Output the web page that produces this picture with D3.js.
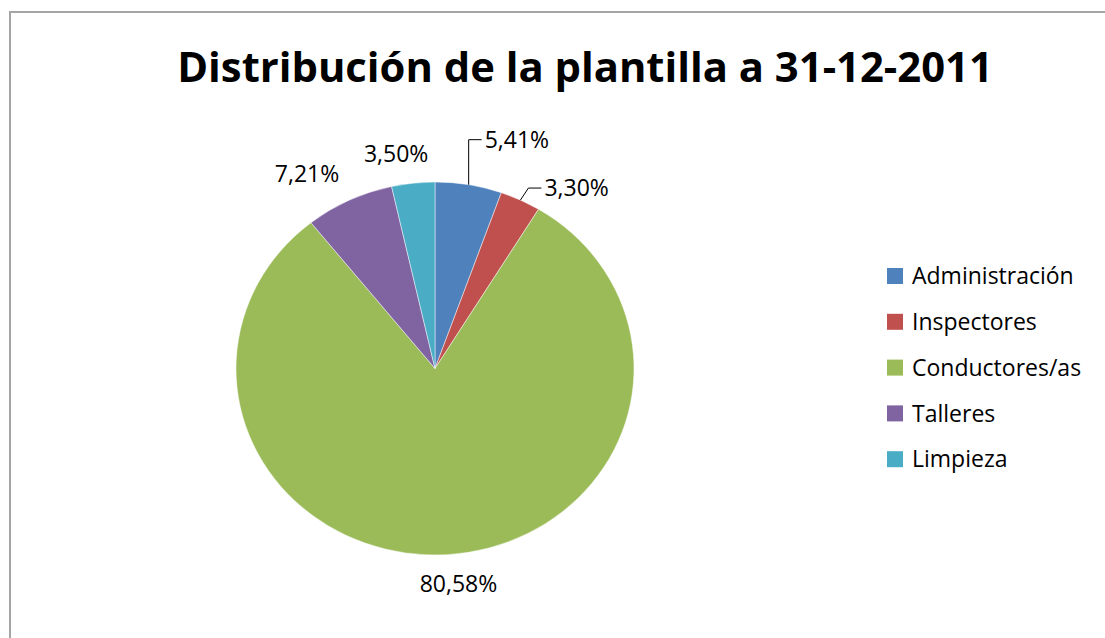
<!DOCTYPE html>
<html>
<head>
<meta charset="utf-8">
<script src="https://cdn.jsdelivr.net/npm/d3@7"></script>
<style>
  body { margin: 0; background: #fff; }
  text { font-family: "Open Sans", "DejaVu Sans", sans-serif; }
</style>
</head>
<body>
<div id="chart-area"></div>
<script>
const WIDTH = 1105
const HEIGHT = 638

// DATA
const categories = ["Administración", "Inspectores", "Conductores/as", "Talleres", "Limpieza"]
const shares = [5.41, 3.30, 80.58, 7.21, 3.50]
const labels = ["5,41%", "3,30%", "80,58%", "7,21%", "3,50%"]
const colors = ["#4F81BD", "#C0504D", "#9BBB59", "#8064A2", "#4BACC6"]

// layout of the labels: offset from the slice's edge point, and leader lines
const LABEL_OFFSET = [[0, -45], [8, -12], [11, 29], [-42, -27], [-17, -29]]
const HAS_LEADER = [true, true, false, false, false]

const CX = 435, CY = 368.5, RX = 199, RY = 186.5

const svg = d3.select("#chart-area").append("svg")
  .attr("width", WIDTH)
  .attr("height", HEIGHT)

svg.append("rect")
  .attr("width", WIDTH)
  .attr("height", HEIGHT)
  .attr("fill", "#fff")

// chart frame (cut off at right and bottom)
svg.append("rect")
  .attr("x", 10)
  .attr("y", 12)
  .attr("width", 1300)
  .attr("height", 900)
  .attr("fill", "none")
  .attr("stroke", "#a5a5a5")
  .attr("stroke-width", 2)

// TITLE
const title = svg.append("text")
  .attr("x", 585)
  .attr("y", 82)
  .attr("text-anchor", "middle")
  .attr("font-weight", "bold")
  .attr("font-size", "36px")
  .attr("fill", "#000")
  .text("Distribución de la plantilla a 31-12-2011")
const tLen = title.node().getComputedTextLength()
title.attr("font-size", (36 * 816 / tLen) + "px")

// PIE
const pie = d3.pie().sort(null).value(d => d)
const arcs = pie(shares)
const arc = d3.arc().innerRadius(0).outerRadius(RX)

const pieG = svg.append("g")
  .attr("transform", `translate(${CX}, ${CY}) scale(1, ${RY / RX})`)

pieG.selectAll("path")
  .data(arcs)
  .enter().append("path")
    .attr("d", arc)
    .attr("fill", (d, i) => colors[i])
    .attr("stroke", "#fff")
    .attr("stroke-opacity", 0.6)
    .attr("stroke-width", 0.8)

// point on the slice edge at mid-angle
function edgePoint(d) {
  const a = (d.startAngle + d.endAngle) / 2
  return [CX + RX * Math.sin(a), CY - RY * Math.cos(a)]
}

const labelG = svg.append("g")
arcs.forEach((d, i) => {
  const p = edgePoint(d)
  const off = LABEL_OFFSET[i]
  if (HAS_LEADER[i]) {
    const elbow = [p[0] + off[0], p[1] + off[1]]
    const end = [elbow[0] + 13, elbow[1]]
    labelG.append("path")
      .attr("d", d3.line()([p, elbow, end]))
      .attr("fill", "none")
      .attr("stroke", "#000")
      .attr("stroke-width", 1)
    labelG.append("text")
      .attr("x", end[0] + 3)
      .attr("y", end[1])
      .attr("dy", "0.36em")
      .attr("font-size", "23px")
      .attr("fill", "#000")
      .text(labels[i])
  } else {
    labelG.append("text")
      .attr("x", p[0] + off[0])
      .attr("y", p[1] + off[1])
      .attr("dy", "0.36em")
      .attr("text-anchor", "middle")
      .attr("font-size", "23px")
      .attr("fill", "#000")
      .text(labels[i])
  }
})

// LEGEND
const legend = svg.append("g")
  .attr("transform", "translate(887, 276)")

const rows = legend.selectAll("g")
  .data(categories)
  .enter().append("g")
    .attr("transform", (d, i) => `translate(0, ${i * 45.8})`)

rows.append("rect")
  .attr("x", 0)
  .attr("y", -8)
  .attr("width", 16)
  .attr("height", 16)
  .attr("fill", (d, i) => colors[i])

rows.append("text")
  .attr("x", 25)
  .attr("y", 0)
  .attr("dy", "0.36em")
  .attr("font-size", "23px")
  .attr("fill", "#000")
  .text(d => d)
</script>
</body>
</html>
